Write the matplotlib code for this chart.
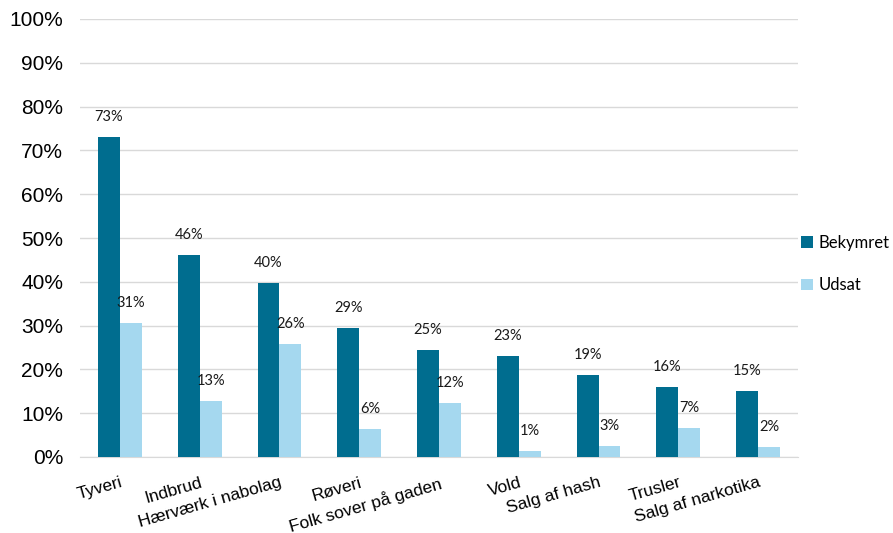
import matplotlib
matplotlib.use("Agg")
import matplotlib.pyplot as plt
import numpy as np

categories = ["Tyveri", "Indbrud", "Hærværk i nabolag", "Røveri", "Folk sover på gaden",
              "Vold", "Salg af hash", "Trusler", "Salg af narkotika"]
bekymret = [73.0, 46.2, 39.8, 29.4, 24.5, 23.1, 18.7, 16.0, 15.1]
udsat = [30.7, 12.7, 25.9, 6.3, 12.4, 1.4, 2.5, 6.6, 2.3]
bekymret_labels = ["73%", "46%", "40%", "29%", "25%", "23%", "19%", "16%", "15%"]
udsat_labels = ["31%", "13%", "26%", "6%", "12%", "1%", "3%", "7%", "2%"]
yticks = [0, 10, 20, 30, 40, 50, 60, 70, 80, 90, 100]

dark = "#006D8F"
light = "#A5D8EF"

fig = plt.figure(figsize=(8.93, 5.33), dpi=100)
ax = fig.add_axes([80/893, 1 - 457/533, 718/893, 438/533])

x = np.arange(len(categories))
w = 0.275
b1 = ax.bar(x - w/2, bekymret, w, color=dark, label="Bekymret", zorder=3)
b2 = ax.bar(x + w/2, udsat, w, color=light, label="Udsat", zorder=3)

lab_font = dict(family=["Lato", "DejaVu Sans"], fontsize=10.5, color="#1a1a1a")
for xi, v, t in zip(x - w/2, bekymret, bekymret_labels):
    ax.annotate(t, (xi, v), xytext=(0, 20), textcoords="offset pixels",
                ha="center", va="center", **lab_font)
for xi, v, t in zip(x + w/2, udsat, udsat_labels):
    ax.annotate(t, (xi, v), xytext=(0, 20), textcoords="offset pixels",
                ha="center", va="center", **lab_font)

ax.set_xlim(-0.5, len(categories) - 0.5)
ax.set_ylim(0, 100)
ax.set_yticks(yticks)
ax.set_yticklabels([f"{t}%" for t in yticks], family="Liberation Sans", fontsize=15)
ax.set_xticks(x)
ax.set_xticklabels(categories, rotation=16, ha="right", rotation_mode="anchor",
                   family="Liberation Sans", fontsize=12.5)
ax.tick_params(axis="both", length=0)
ax.tick_params(axis="y", pad=12)
ax.tick_params(axis="x", pad=13)
for s in ["top", "right", "left"]:
    ax.spines[s].set_visible(False)
ax.spines["bottom"].set_color("#D9D9D9")
ax.grid(axis="y", color="#D9D9D9", linewidth=1, zorder=0)
ax.set_axisbelow(True)

leg = fig.legend(handles=[b1, b2], labels=["Bekymret", "Udsat"],
                 loc="center left", bbox_to_anchor=(801/893, 1 - 264/533),
                 frameon=False, prop=dict(family=["Lato"], size=12),
                 borderaxespad=0, borderpad=0,
                 handlelength=0.7, handleheight=0.7, labelspacing=1.6, handletextpad=0.35)

fig.savefig("out.png", dpi=100)
